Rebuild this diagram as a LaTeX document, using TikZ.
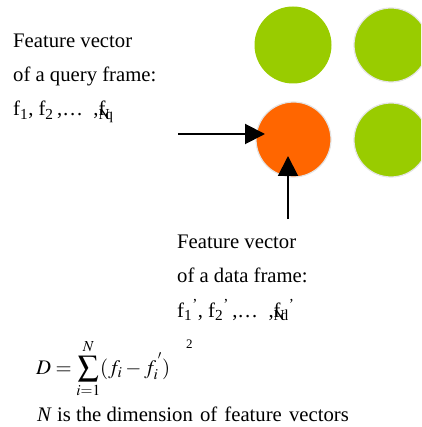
\documentclass[tikz,border=0pt]{standalone}
\usepackage{mathptmx}
\usepackage{fontspec}
\setmainfont{Liberation Serif}
\usetikzlibrary{arrows.meta,positioning,calc}
\definecolor{dotgreen}{HTML}{99CC00}
\definecolor{dotorange}{HTML}{FF6600}
\definecolor{dotrim}{HTML}{E4E4E4}

\begin{document}
\begin{tikzpicture}[x=1pt,y=-1pt,
  dot/.style={circle,inner sep=0pt,minimum size=74pt,fill=dotgreen,draw=dotrim,line width=1.2pt},
  lbl/.style={anchor=base west,inner sep=0pt,font=\fontsize{20.7}{25}\selectfont},
  pointer/.style={line width=2pt,-{Triangle[length=20pt,width=20pt]}}]
\useasboundingbox (0,0) rectangle (421,427);
\clip (0,0) rectangle (421,427);

% grid of frames
\node[dot,draw=none,minimum size=77pt] (d11) at (293,45) {};
\node[dot] (d12) at (391,45) {};
\node[dot,fill=dotorange,minimum size=75pt] (match) at (293.5,139.5) {};
\node[dot] (d22) at (391,140) {};

% query frame
\node[lbl] (q1) at (13,48) {Feature vector};
\node[lbl] (q2) at (13,82) {of a query frame:};
\node[lbl] (q3) at (13,116) {f\textsubscript{1}, f\textsubscript{2}\,,\dots\ \ ,\rlap{\textsubscript{N}}f\textsubscript{q}};

% data frame
\node[lbl] (p1) at (177,248) {Feature vector};
\node[lbl] (p2) at (177,282) {of a data frame:};
\node[lbl] (p3) at (177,317) {f\textsubscript{1}\textsuperscript{'}, f\textsubscript{2}\textsuperscript{'}\,,\dots\ \ ,\rlap{\textsubscript{N}}f\textsubscript{d}\textsuperscript{'}};

\coordinate (qtail) at (178,134);
\coordinate (qhead) at (265,134);
\coordinate (ptail) at (288,219);
\coordinate (phead) at (288,156);
\draw[pointer] (qtail) -- (qhead);
\draw[pointer] (ptail) -- (phead);

% distance
\node[lbl] (dist) at (36,374) {$\displaystyle D=\sum_{i=1}^{N}(f_i-f_i^{\,'})$};
\node[lbl,font=\fontsize{13}{13}\selectfont] (sq) at (186,348) {2};
\node[lbl] (dim) at (37,421) {\textit{N} is the dimension\hspace{2pt} of\hspace{2pt} feature\hspace{2pt} vectors};
\end{tikzpicture}
\end{document}
